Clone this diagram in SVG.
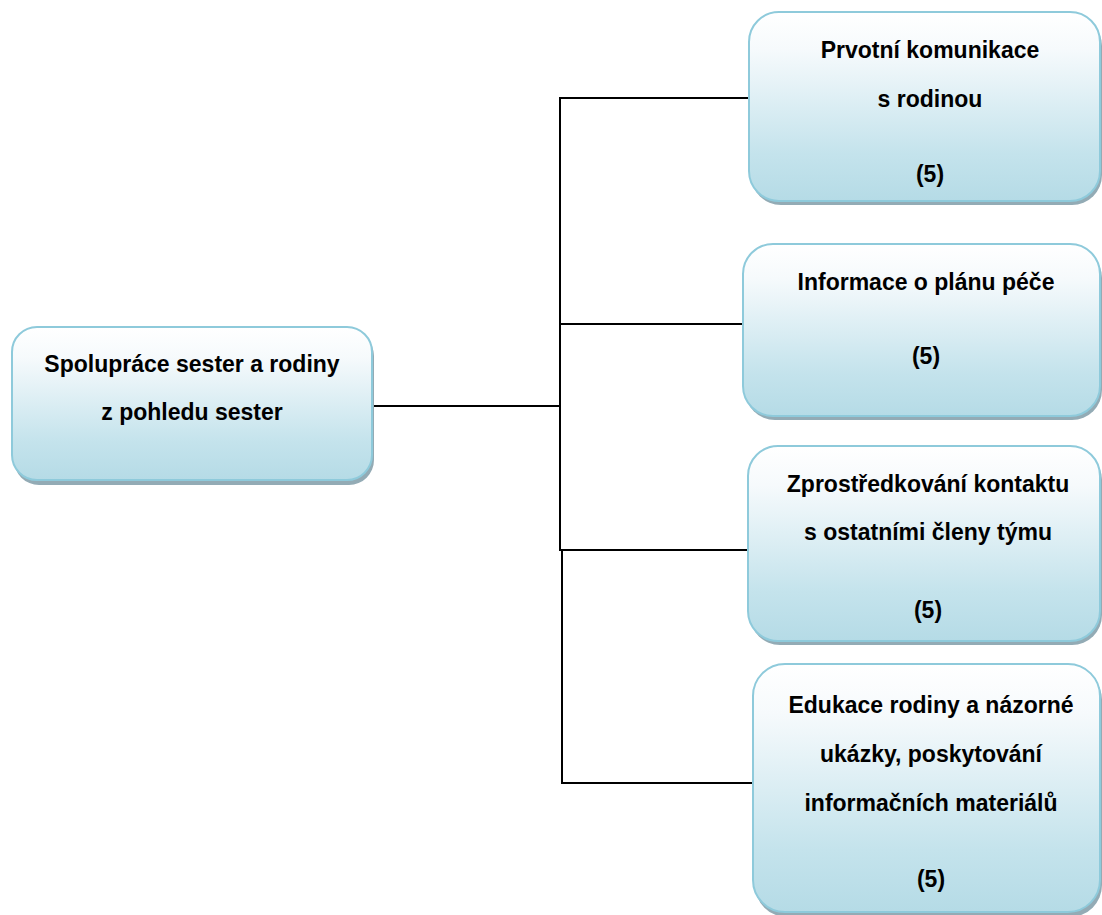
<svg xmlns="http://www.w3.org/2000/svg" width="1102" height="915" viewBox="0 0 1102 915">
<defs>
<linearGradient id="fill" x1="0" y1="0" x2="0" y2="1">
<stop offset="0" stop-color="#ffffff"/>
<stop offset="0.2" stop-color="#f6fafc"/>
<stop offset="0.75" stop-color="#c4e3ec"/>
<stop offset="1" stop-color="#b5dbe6"/>
</linearGradient>
</defs>
<style>
.shadow{fill:#93abb5}
.box{fill:url(#fill);stroke:#8ecadb;stroke-width:2}
.t{font-family:"Liberation Sans",Arial,sans-serif;font-weight:bold;font-size:23px;fill:#000;text-anchor:middle}
.conn{stroke:#000;stroke-width:2;fill:none}
</style>
<g id="connectors">
<line class="conn" x1="372" y1="406" x2="560" y2="406"/>
<line class="conn" x1="560" y1="97" x2="560" y2="551"/>
<line class="conn" x1="559" y1="98" x2="749" y2="98"/>
<line class="conn" x1="559" y1="324" x2="743" y2="324"/>
<line class="conn" x1="559" y1="550" x2="749" y2="550"/>
<line class="conn" x1="562" y1="549" x2="562" y2="784"/>
<line class="conn" x1="561" y1="783" x2="753" y2="783"/>
</g>
<g id="root">
<rect class="shadow" x="14" y="331" width="360" height="154" rx="25"/>
<rect class="box" x="12" y="327" width="360" height="153" rx="25"/>
<text class="t" x="192" y="372">Spolupráce sester a rodiny</text>
<text class="t" x="192" y="420">z pohledu sester</text>
</g>
<g id="n1">
<rect class="shadow" x="751" y="16" width="351" height="189" rx="30"/>
<rect class="box" x="749" y="12" width="351" height="189" rx="30"/>
<text class="t" x="930" y="58">Prvotní komunikace</text>
<text class="t" x="930" y="107">s rodinou</text>
<text class="t" x="930" y="182">(5)</text>
</g>
<g id="n2">
<rect class="shadow" x="745" y="248" width="357" height="172" rx="30"/>
<rect class="box" x="743" y="244" width="357" height="172" rx="30"/>
<text class="t" x="926" y="290">Informace o plánu péče</text>
<text class="t" x="926" y="364">(5)</text>
</g>
<g id="n3">
<rect class="shadow" x="750" y="450" width="352" height="195" rx="30"/>
<rect class="box" x="748" y="446" width="352" height="195" rx="30"/>
<text class="t" x="928" y="492">Zprostředkování kontaktu</text>
<text class="t" x="928" y="540">s ostatními členy týmu</text>
<text class="t" x="928" y="618">(5)</text>
</g>
<g id="n4">
<rect class="shadow" x="755" y="668" width="347" height="249" rx="32"/>
<rect class="box" x="753" y="664" width="347" height="248" rx="32"/>
<text class="t" x="931" y="713">Edukace rodiny a názorné</text>
<text class="t" x="931" y="762">ukázky, poskytování</text>
<text class="t" x="931" y="811">informačních materiálů</text>
<text class="t" x="931" y="887">(5)</text>
</g>
</svg>
